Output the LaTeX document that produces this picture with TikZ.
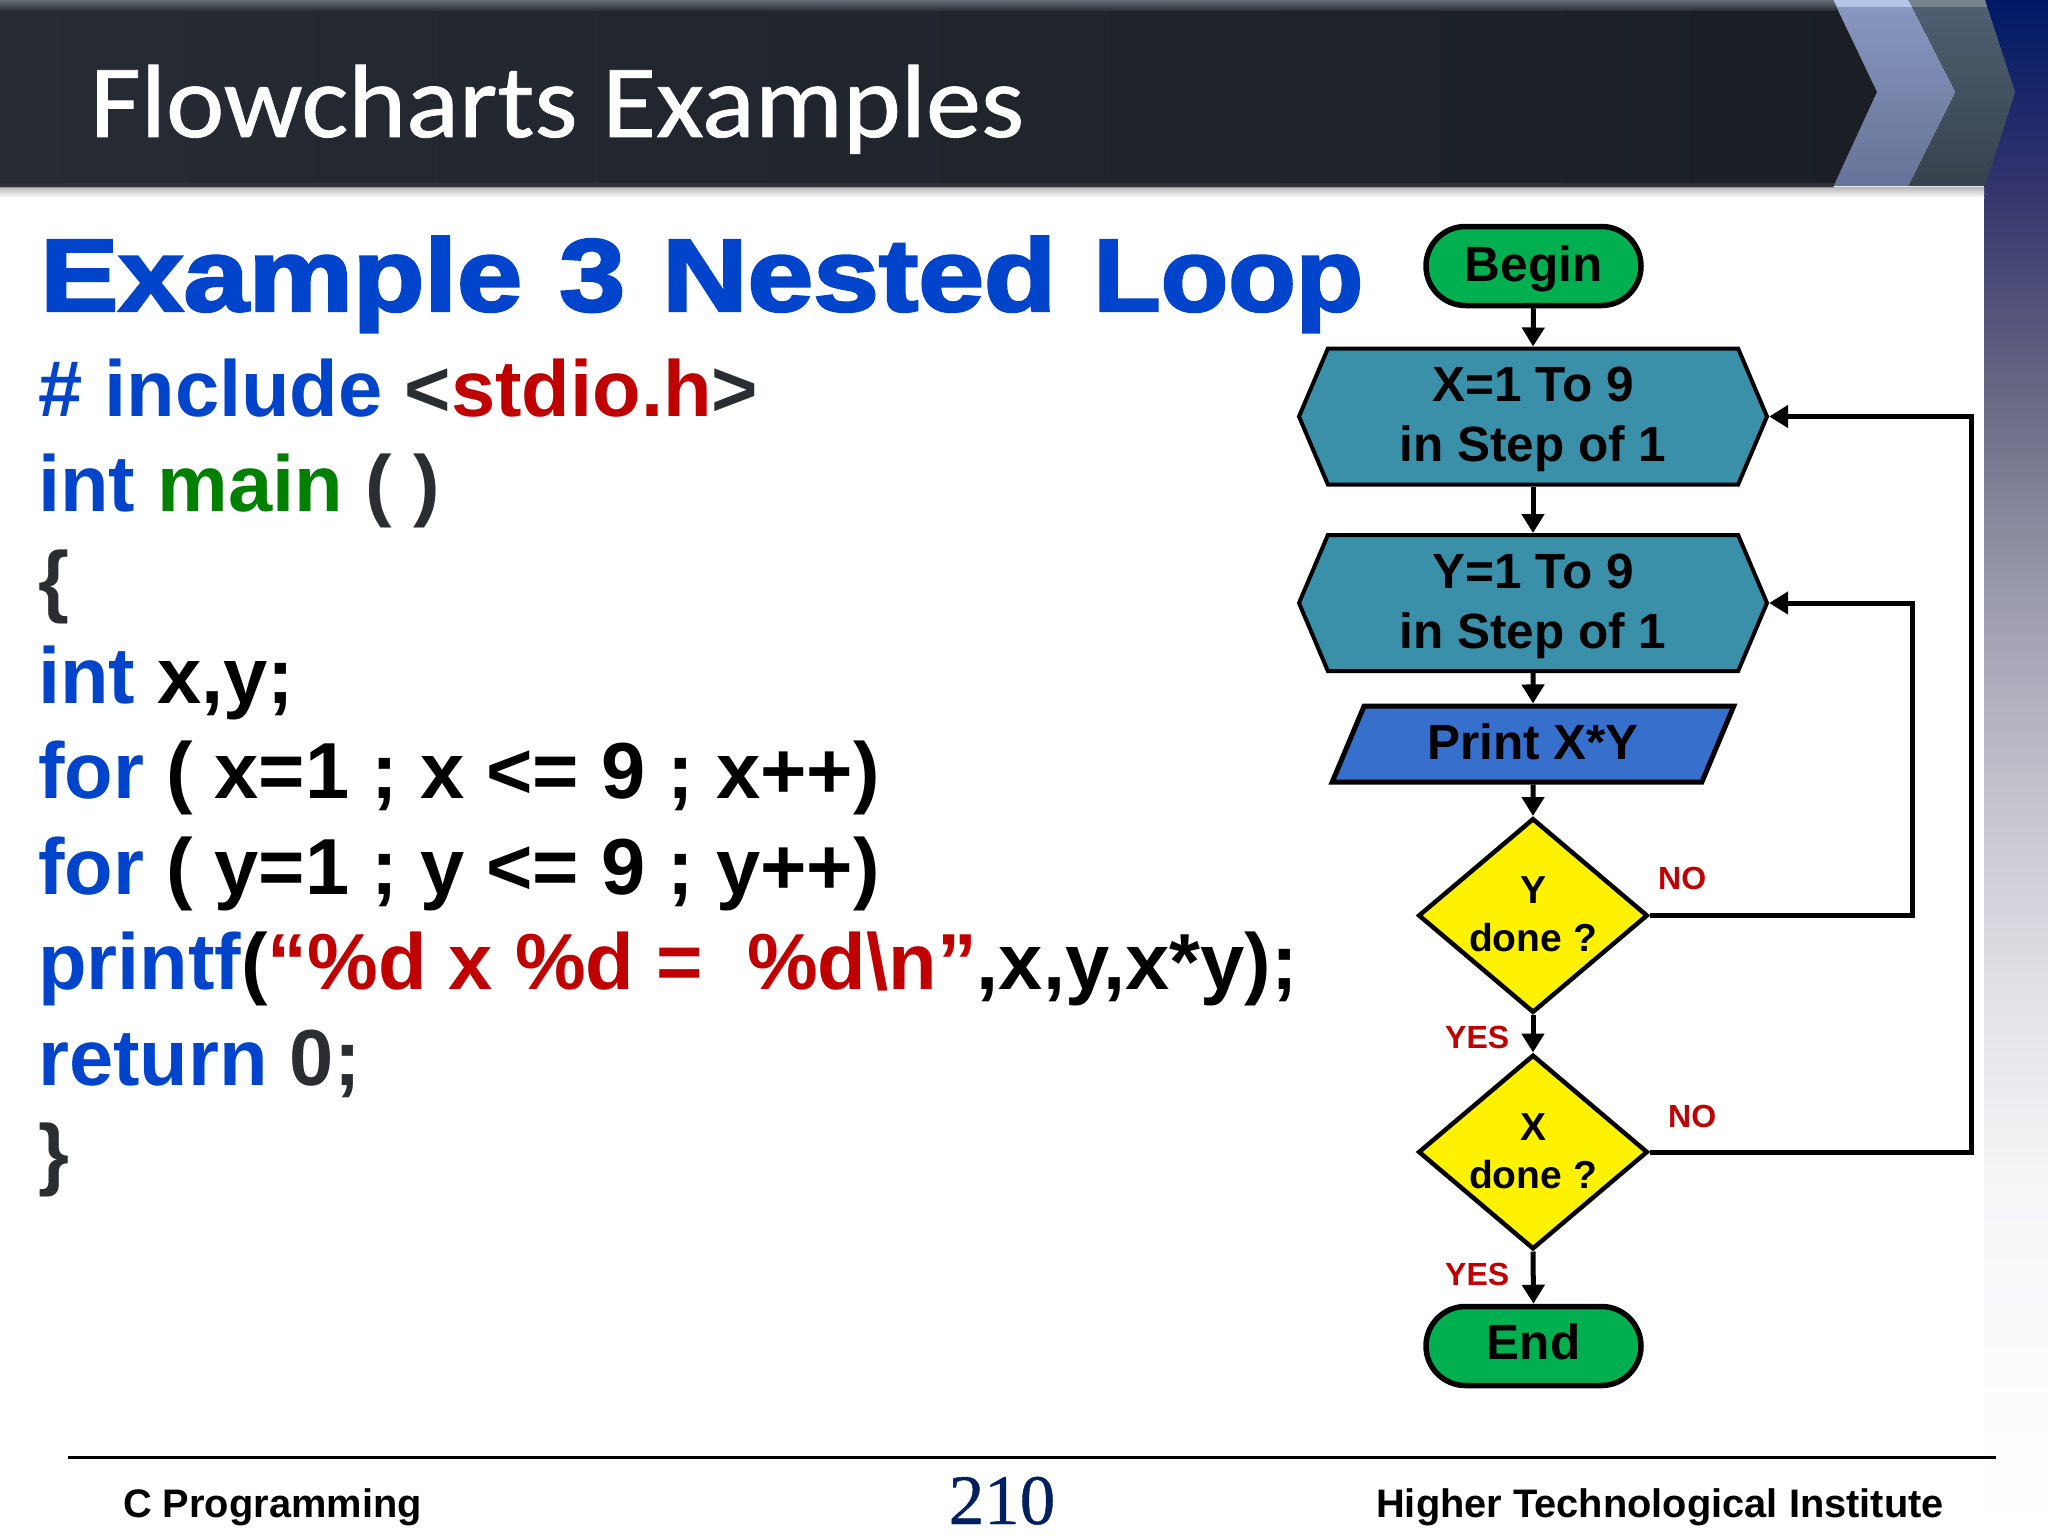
\documentclass[tikz,border=0pt]{standalone}
\usepackage{fontspec}
\usepackage{graphicx}
\setmainfont{Liberation Sans}
\newfontfamily\titlefont[FakeBold=0.8]{Carlito}
\newfontfamily\pagefont[FakeBold=0.6]{Liberation Serif}
\newfontfamily\headfont[FakeBold=2.4]{Liberation Sans Bold}
\usetikzlibrary{arrows.meta, shapes.geometric, shapes.misc, shapes.symbols}

\definecolor{kwblue}{HTML}{0044CC}
\definecolor{strred}{HTML}{C00000}
\definecolor{fngreen}{HTML}{008000}
\definecolor{codedark}{HTML}{2A2D32}
\definecolor{hexteal}{HTML}{3A90A8}
\definecolor{printblue}{HTML}{3670CC}
\definecolor{termgreen}{HTML}{00B050}
\definecolor{pagenavy}{HTML}{00205F}
\definecolor{bandA}{HTML}{F7F7F9}
\definecolor{bandB}{HTML}{E2E2E8}
\definecolor{bandC}{HTML}{C4C4CE}
\definecolor{bandD}{HTML}{9B9BAE}
\definecolor{bandE}{HTML}{6A6A85}
\definecolor{bandF}{HTML}{35356E}
\definecolor{bandG}{HTML}{001A66}
\definecolor{barleft}{HTML}{262B34}
\definecolor{barright}{HTML}{1B1F25}
\definecolor{bartop}{HTML}{686E76}
\definecolor{barfoot}{HTML}{323236}
\definecolor{midtop}{HTML}{8898C0}
\definecolor{midfoot}{HTML}{677398}
\definecolor{midedge}{HTML}{B4C4E8}
\definecolor{backtop}{HTML}{506072}
\definecolor{backfoot}{HTML}{37424E}
\definecolor{backedge}{HTML}{76828E}

\pgfdeclareverticalshading{bandshade}{100bp}{%
  color(0bp)=(white);color(25bp)=(white);
  color(36bp)=(bandA);color(42.4bp)=(bandB);color(49bp)=(bandC);
  color(55.5bp)=(bandD);color(62bp)=(bandE);color(68.8bp)=(bandF);
  color(75bp)=(bandG);color(100bp)=(bandG)}

\newcommand{\kwd}[1]{\textcolor{kwblue}{#1}}
\newcommand{\strg}[1]{\textcolor{strred}{#1}}
\newcommand{\fng}[1]{\textcolor{fngreen}{#1}}
\newcommand{\dk}[1]{\textcolor{codedark}{#1}}
\newcommand{\fitw}[2]{\resizebox{#1}{\height}{#2}}

\tikzset{
  flowbox/.style={draw=black, inner sep=0pt, align=center,
    font=\fontsize{49.5}{60}\selectfont\bfseries},
  termbox/.style={flowbox, rounded rectangle, rounded rectangle arc length=180,
    fill=termgreen, line width=5.5pt, minimum width=215pt, minimum height=79pt},
  loopbox/.style={flowbox, signal, signal to=east and west, signal pointer angle=134,
    fill=hexteal, line width=4pt, minimum width=468pt, minimum height=136pt,
    text height=100pt, text depth=10pt},
  printbox/.style={flowbox, trapezium, trapezium left angle=64, trapezium right angle=116,
    trapezium stretches=true, fill=printblue, line width=5pt,
    minimum width=402pt, minimum height=76pt, text height=36pt, text depth=5pt},
  askbox/.style={flowbox, diamond, fill=yellow, line width=4.5pt, aspect=1.19,
    minimum width=229.5pt, minimum height=194.5pt, text depth=2pt,
    font=\fontsize{39}{48}\selectfont\bfseries},
  flowarrow/.style={draw=black, line width=5pt, line join=miter, -{Triangle[length=19pt,width=22pt]}},
  answer/.style={text=strred, inner sep=0pt, anchor=base west,
    font=\fontsize{32}{38}\selectfont\bfseries},
  codeline/.style={inner sep=0pt, anchor=base west,
    font=\fontsize{79.5}{96}\selectfont\bfseries},
  foot/.style={inner sep=0pt, anchor=base west,
    font=\fontsize{39.8}{46}\selectfont\bfseries}
}

\begin{document}
\begin{tikzpicture}[x=1pt,y=-1pt]
\useasboundingbox (0,0) rectangle (2048,1536);
\fill[white] (0,0) rectangle (2048,1536);

\begin{scope}
\shade[shading=bandshade] (1984,0) rectangle (2048,1536);
\shade[top color=gray!55, bottom color=white] (0,187) rectangle (1984,198);
\shade[top color=backtop, bottom color=backfoot]
  (1908,0) -- (1985,0) -- (2015,92) -- (1985,186) -- (1908,186) -- (1955,92) -- cycle;
\fill[backedge] (1908,0) -- (1985,0) -- (1987,7) -- (1912,7) -- cycle;
\shade[top color=midtop, bottom color=midfoot]
  (1833,0) -- (1908,0) -- (1955,92) -- (1908,186) -- (1833,186) -- (1877,92) -- cycle;
\fill[midedge] (1833,0) -- (1908,0) -- (1912,7) -- (1837,7) -- cycle;
\shade[left color=barleft, right color=barright]
  (0,0) -- (1833,0) -- (1877,92) -- (1833,187) -- (0,187) -- cycle;
\shade[top color=bartop, bottom color=barleft]
  (0,0) -- (1833,0) -- (1838,11) -- (0,11) -- cycle;
\fill[barfoot] (0,183) -- (1835,183) -- (1833,187) -- (0,187) -- cycle;
\node[anchor=base west, inner sep=0pt, text=white, font=\titlefont\fontsize{104}{120}\selectfont]
  (title) at (90,137) {\fitw{934pt}{Flowcharts Examples}};
\end{scope}

\node[anchor=base west, inner sep=0pt, text=kwblue, font=\headfont\fontsize{103}{120}\selectfont]
  (heading) at (40,311) {\spaceskip=37pt \fitw{482pt}{Example} \fitw{66pt}{3} \fitw{394pt}{Nested} \fitw{270pt}{Loop}};

\begin{scope}
\node[codeline] (code1) at (38,416) {\kwd{\# include} \dk{<}\strg{stdio.h}\dk{>}};
\node[codeline] (code2) at (38,511.6) {\kwd{int} \fng{main} \dk{( )}};
\node[codeline] (code3) at (38,607) {\dk{\{}};
\node[codeline] (code4) at (38,703) {\kwd{int} x,y;};
\node[codeline] (code5) at (38,798) {\kwd{for} ( x=1 ; x <= 9 ; x++)};
\node[codeline] (code6) at (38,894) {\kwd{for} ( y=1 ; y <= 9 ; y++)};
\node[codeline] (code7) at (38,989) {\kwd{printf}(\strg{“\%d x \%d = \ \%d\textbackslash n”},x,y,x*y);};
\node[codeline] (code8) at (38,1085) {\kwd{return} \dk{0;}};
\node[codeline] (code9) at (38,1180) {\dk{\}}};
\end{scope}

\begin{scope}
\node[termbox, text height=40pt, text depth=10pt] (begin) at (1533.5,266) {Begin};
\node[loopbox] (loopx) at (1533,416.5) {X=1 To 9\\in Step of 1};
\node[loopbox] (loopy) at (1533,603) {Y=1 To 9\\in Step of 1};
\node[printbox] (printxy) at (1533,744) {Print X*Y};
\node[askbox] (doney) at (1533,915.5) {Y\\done ?};
\node[askbox] (donex) at (1533,1152) {X\\done ?};
\node[termbox, text height=35pt, text depth=8pt] (finish) at (1533.5,1346) {End};
\coordinate (turny) at (1912,915.5);
\coordinate (turnx) at (1971,1152);

\draw[flowarrow] (begin.south) -- (loopx.north);
\draw[flowarrow] (loopx.south) -- (loopy.north);
\draw[flowarrow] (loopy.south) -- (printxy.north);
\draw[flowarrow] (printxy.south) -- (doney.north);
\draw[flowarrow] (doney.south) -- (donex.north);
\draw[flowarrow] (donex.south) -- (finish.north);
\draw[flowarrow] (doney.east) -- (turny) |- (loopy.east);
\draw[flowarrow] (donex.east) -- (turnx) |- (loopx.east);

\node[answer] (noy) at (1658,889) {NO};
\node[answer] (nox) at (1668,1127) {NO};
\node[answer] (yesy) at (1445,1048) {YES};
\node[answer] (yesx) at (1445,1285) {YES};
\end{scope}

\draw[line width=2.5pt] (68,1457.5) coordinate (ruleleft) -- (1996,1457.5) coordinate (ruleright);
\node[foot] (course) at (123,1517) {C Programming};
\node[foot] (school) at (1376,1517) {Higher Technological Institute};
\node[anchor=base, inner sep=0pt, text=pagenavy, font=\pagefont\fontsize{71}{80}\selectfont]
  (pagenum) at (1002,1524) {210};
\end{tikzpicture}
\end{document}
